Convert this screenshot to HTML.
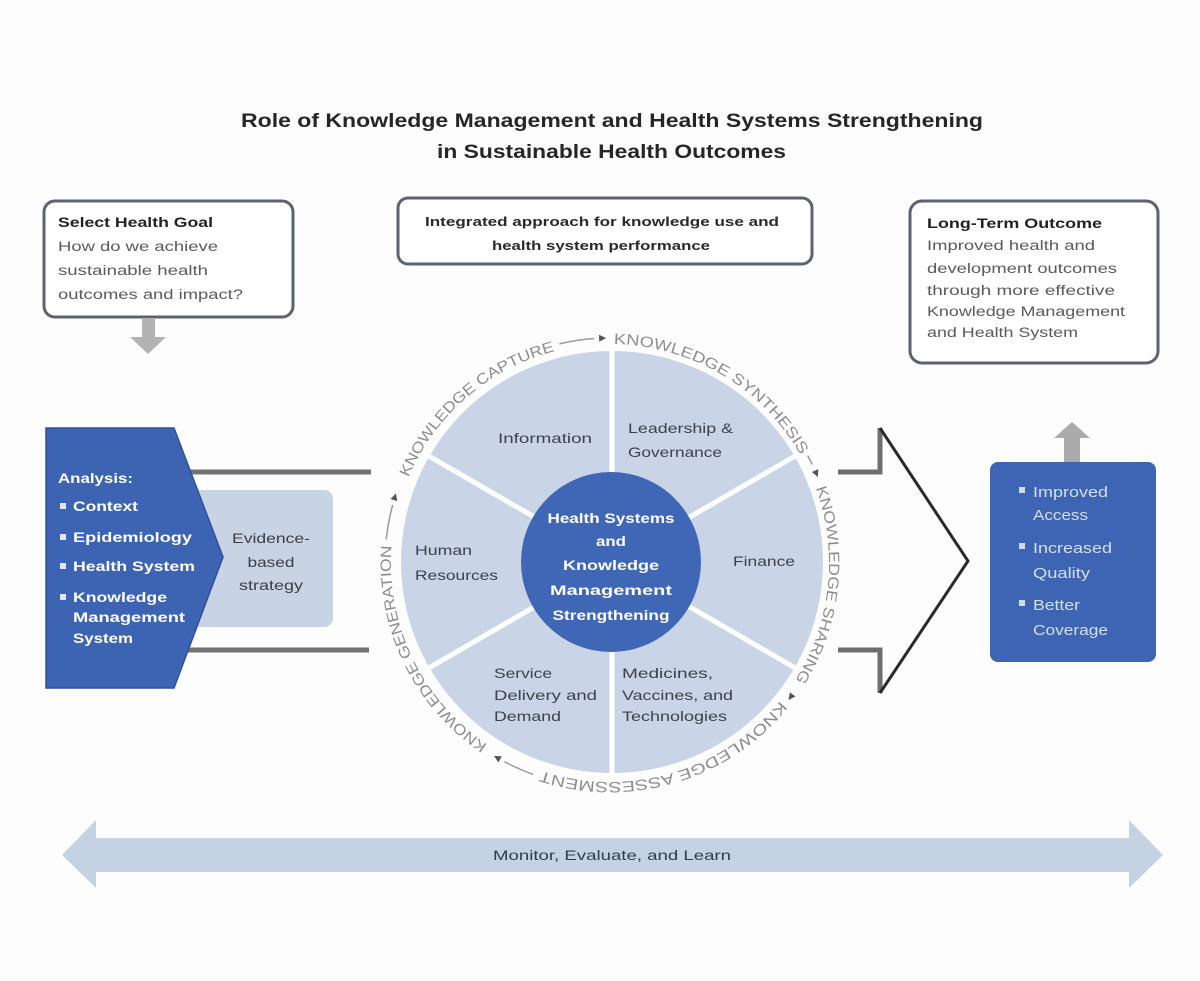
<!DOCTYPE html>
<html><head><meta charset="utf-8"><style>
html,body{margin:0;padding:0;background:#fdfdfd;}
svg{display:block;}
text{font-family:"Liberation Sans",sans-serif;}
</style></head><body>
<svg width="1200" height="981" viewBox="0 0 1200 981" xmlns="http://www.w3.org/2000/svg">
<rect x="0" y="0" width="1200" height="981" fill="#fdfdfd"/>

<!-- Title -->
<text x="241" y="127" font-size="19" font-weight="bold" fill="#262626" textLength="742" lengthAdjust="spacingAndGlyphs">Role of Knowledge Management and Health Systems Strengthening</text>
<text x="437" y="158" font-size="19" font-weight="bold" fill="#262626" textLength="349" lengthAdjust="spacingAndGlyphs">in Sustainable Health Outcomes</text>

<!-- Top-left box -->
<rect x="44" y="201" width="249" height="116" rx="11" fill="#ffffff" stroke="#5b6271" stroke-width="3"/>
<text x="58" y="227" font-size="13.5" font-weight="bold" fill="#222" textLength="155" lengthAdjust="spacingAndGlyphs">Select Health Goal</text>
<text x="58" y="251" font-size="13.5" fill="#5a5a5a" textLength="160" lengthAdjust="spacingAndGlyphs">How do we achieve</text>
<text x="58" y="275" font-size="13.5" fill="#5a5a5a" textLength="150" lengthAdjust="spacingAndGlyphs">sustainable health</text>
<text x="58" y="299" font-size="13.5" fill="#5a5a5a" textLength="185" lengthAdjust="spacingAndGlyphs">outcomes and impact?</text>
<!-- down arrow -->
<polygon points="142,318 155,318 155,337 166,337 148,354 130,337 142,337" fill="#b3b3b3"/>

<!-- Top-middle box -->
<rect x="398" y="198" width="414" height="66" rx="10" fill="#ffffff" stroke="#5b6271" stroke-width="3"/>
<text x="425" y="226" font-size="13" font-weight="bold" fill="#2a2a2a" textLength="354" lengthAdjust="spacingAndGlyphs">Integrated approach for knowledge use and</text>
<text x="492" y="250" font-size="13" font-weight="bold" fill="#2a2a2a" textLength="218" lengthAdjust="spacingAndGlyphs">health system performance</text>

<!-- Top-right box -->
<rect x="910" y="201" width="248" height="162" rx="12" fill="#ffffff" stroke="#5b6271" stroke-width="3"/>
<text x="927" y="228" font-size="13.5" font-weight="bold" fill="#222" textLength="175" lengthAdjust="spacingAndGlyphs">Long-Term Outcome</text>
<text x="927" y="250" font-size="13.5" fill="#5a5a5a" textLength="168" lengthAdjust="spacingAndGlyphs">Improved health and</text>
<text x="927" y="273" font-size="13.5" fill="#5a5a5a" textLength="190" lengthAdjust="spacingAndGlyphs">development outcomes</text>
<text x="927" y="295" font-size="13.5" fill="#5a5a5a" textLength="188" lengthAdjust="spacingAndGlyphs">through more effective</text>
<text x="927" y="316" font-size="13.5" fill="#5a5a5a" textLength="198" lengthAdjust="spacingAndGlyphs">Knowledge Management</text>
<text x="927" y="337" font-size="13.5" fill="#5a5a5a" textLength="151" lengthAdjust="spacingAndGlyphs">and Health System</text>

<!-- Left shaft lines -->
<line x1="185" y1="472" x2="371" y2="472" stroke="#737373" stroke-width="5"/>
<line x1="185" y1="650" x2="369" y2="650" stroke="#737373" stroke-width="5"/>

<!-- Evidence box -->
<rect x="180" y="490" width="153" height="137" rx="9" fill="#c8d3e3"/>
<text x="271" y="543" font-size="14" fill="#3a3f48" text-anchor="middle" textLength="78" lengthAdjust="spacingAndGlyphs">Evidence-</text>
<text x="271" y="567" font-size="14" fill="#3a3f48" text-anchor="middle" textLength="47" lengthAdjust="spacingAndGlyphs">based</text>
<text x="271" y="590" font-size="14" fill="#3a3f48" text-anchor="middle" textLength="64" lengthAdjust="spacingAndGlyphs">strategy</text>

<!-- Analysis pentagon -->
<polygon points="46,428 174,428 223,557 174,688 46,688" fill="#3d64b3" stroke="#2f5198" stroke-width="1.5"/>
<text x="58" y="483" font-size="14" font-weight="bold" fill="#ffffff" textLength="75" lengthAdjust="spacingAndGlyphs">Analysis:</text>
<rect x="60" y="503" width="6" height="6" fill="#dfe7f6"/>
<text x="73" y="511" font-size="14" font-weight="bold" fill="#ffffff" textLength="65" lengthAdjust="spacingAndGlyphs">Context</text>
<rect x="60" y="534" width="6" height="6" fill="#dfe7f6"/>
<text x="73" y="542" font-size="14" font-weight="bold" fill="#ffffff" textLength="119" lengthAdjust="spacingAndGlyphs">Epidemiology</text>
<rect x="60" y="563" width="6" height="6" fill="#dfe7f6"/>
<text x="73" y="571" font-size="14" font-weight="bold" fill="#ffffff" textLength="122" lengthAdjust="spacingAndGlyphs">Health System</text>
<rect x="60" y="594" width="6" height="6" fill="#dfe7f6"/>
<text x="73" y="602" font-size="14" font-weight="bold" fill="#ffffff" textLength="94" lengthAdjust="spacingAndGlyphs">Knowledge</text>
<text x="73" y="622" font-size="14" font-weight="bold" fill="#ffffff" textLength="112" lengthAdjust="spacingAndGlyphs">Management</text>
<text x="73" y="643" font-size="14" font-weight="bold" fill="#ffffff" textLength="60" lengthAdjust="spacingAndGlyphs">System</text>

<!-- Right big hollow arrow -->
<polyline points="838,472 880,472 880,428" fill="none" stroke="#6e6e6e" stroke-width="5"/>
<polyline points="838,650 880,650 880,693" fill="none" stroke="#6e6e6e" stroke-width="5"/>
<polyline points="880,428 968,561 880,693" fill="none" stroke="#2a2a2a" stroke-width="3"/>

<!-- Up arrow above blue box -->
<polygon points="1064,462 1080,462 1080,438 1090,438 1072,422 1054,438 1064,438" fill="#ababab"/>

<!-- Blue outcome box -->
<rect x="990" y="462" width="166" height="200" rx="8" fill="#3e65b4"/>
<rect x="1019" y="487" width="6" height="6" fill="#cddaf0"/>
<text x="1033" y="497" font-size="15" fill="#d3dff3" textLength="75" lengthAdjust="spacingAndGlyphs">Improved</text>
<text x="1033" y="520" font-size="15" fill="#d3dff3" textLength="55" lengthAdjust="spacingAndGlyphs">Access</text>
<rect x="1019" y="543" width="6" height="6" fill="#cddaf0"/>
<text x="1033" y="553" font-size="15" fill="#d3dff3" textLength="79" lengthAdjust="spacingAndGlyphs">Increased</text>
<text x="1033" y="578" font-size="15" fill="#d3dff3" textLength="57" lengthAdjust="spacingAndGlyphs">Quality</text>
<rect x="1019" y="600" width="6" height="6" fill="#cddaf0"/>
<text x="1033" y="610" font-size="15" fill="#d3dff3" textLength="47" lengthAdjust="spacingAndGlyphs">Better</text>
<text x="1033" y="635" font-size="15" fill="#d3dff3" textLength="75" lengthAdjust="spacingAndGlyphs">Coverage</text>

<!-- Central circle -->
<circle cx="612" cy="562" r="211" fill="#c9d5e6"/>
<g stroke="#ffffff" stroke-width="5">
  <line x1="612" y1="562" x2="612" y2="348"/>
  <line x1="612" y1="562" x2="612" y2="776"/>
  <line x1="612" y1="562" x2="427" y2="455"/>
  <line x1="612" y1="562" x2="427" y2="669"/>
  <line x1="612" y1="562" x2="797" y2="455"/>
  <line x1="612" y1="562" x2="797" y2="669"/>
</g>
<circle cx="611" cy="562" r="90" fill="#3f67b6"/>

<!-- Segment labels -->
<g font-size="14" fill="#3c414d">
<text x="498" y="443" textLength="94" lengthAdjust="spacingAndGlyphs">Information</text>
<text x="628" y="433" textLength="105" lengthAdjust="spacingAndGlyphs">Leadership &amp;</text>
<text x="628" y="457" textLength="94" lengthAdjust="spacingAndGlyphs">Governance</text>
<text x="415" y="555" textLength="57" lengthAdjust="spacingAndGlyphs">Human</text>
<text x="415" y="580" textLength="83" lengthAdjust="spacingAndGlyphs">Resources</text>
<text x="733" y="566" textLength="62" lengthAdjust="spacingAndGlyphs">Finance</text>
<text x="494" y="678" textLength="58" lengthAdjust="spacingAndGlyphs">Service</text>
<text x="494" y="700" textLength="103" lengthAdjust="spacingAndGlyphs">Delivery and</text>
<text x="494" y="721" textLength="67" lengthAdjust="spacingAndGlyphs">Demand</text>
<text x="622" y="678" textLength="91" lengthAdjust="spacingAndGlyphs">Medicines,</text>
<text x="622" y="700" textLength="111" lengthAdjust="spacingAndGlyphs">Vaccines, and</text>
<text x="622" y="721" textLength="105" lengthAdjust="spacingAndGlyphs">Technologies</text>
</g>

<!-- Inner circle text -->
<g font-size="13.5" font-weight="bold" fill="#ffffff" text-anchor="middle">
<text x="611" y="523" textLength="127" lengthAdjust="spacingAndGlyphs">Health Systems</text>
<text x="611" y="546" textLength="30" lengthAdjust="spacingAndGlyphs">and</text>
<text x="611" y="570" textLength="96" lengthAdjust="spacingAndGlyphs">Knowledge</text>
<text x="611" y="595" textLength="122" lengthAdjust="spacingAndGlyphs">Management</text>
<text x="611" y="620" textLength="117" lengthAdjust="spacingAndGlyphs">Strengthening</text>
</g>

<!-- Ring text paths -->
<defs>
  <path id="pCap" d="M408.4,477.4 A219,219 0 0 1 557.0,350.5"/>
  <path id="pSyn" d="M613.8,344.0 A219,219 0 0 1 801.5,456.8"/>
  <path id="pSha" d="M815.8,488.1 A219,219 0 0 1 793.7,682.3"/>
  <path id="pAss" d="M780.2,700.8 A219,219 0 0 1 538.7,770.1"/>
  <path id="pGen" d="M487.5,744.6 A219,219 0 0 1 391.8,543.9"/>
</defs>
<g font-size="15" fill="#8d8d8d">
  <text><textPath href="#pCap" textLength="200" lengthAdjust="spacingAndGlyphs">KNOWLEDGE CAPTURE</textPath></text>
  <text><textPath href="#pSyn" textLength="227" lengthAdjust="spacingAndGlyphs">KNOWLEDGE SYNTHESIS</textPath></text>
  <text><textPath href="#pSha" textLength="200" lengthAdjust="spacingAndGlyphs">KNOWLEDGE SHARING</textPath></text>
  <text><textPath href="#pAss" textLength="265" lengthAdjust="spacingAndGlyphs">KNOWLEDGE ASSESSMENT</textPath></text>
  <text><textPath href="#pGen" textLength="231" lengthAdjust="spacingAndGlyphs">KNOWLEDGE GENERATION</textPath></text>
</g>

<!-- Ring connector lines -->
<g fill="none" stroke="#9a9a9a" stroke-width="1.5">
  <path d="M559.4,343.8 A225,225 0 0 1 594.3,338.5"/>
  <path d="M807.7,455.6 A225,225 0 0 1 812.2,464.4"/>
  <path d="M533.0,774.4 A225,225 0 0 1 504.4,761.7"/>
  <path d="M386.2,539.5 A225,225 0 0 1 392.7,504.8"/>
</g>
<!-- Ring markers -->
<g fill="#555">
  <polygon points="4,0 -3,-3.5 -3,3.5" transform="translate(602.1,338.1) rotate(358)"/>
  <polygon points="4,0 -3,-3.5 -3,3.5" transform="translate(816.3,473.3) rotate(66.5)"/>
  <polygon points="4,0 -3,-3.5 -3,3.5" transform="translate(790.9,696.8) rotate(126.5)"/>
  <polygon points="4,0 -3,-3.5 -3,3.5" transform="translate(497.5,757.9) rotate(210)"/>
  <polygon points="4,0 -3,-3.5 -3,3.5" transform="translate(394.8,497.2) rotate(287)"/>
</g>

<!-- Bottom double arrow -->
<polygon points="62,855 96,820 96,838 1129,838 1129,820 1163,855 1129,888 1129,872 96,872 96,888" fill="#c4d2e4"/>
<text x="493" y="860" font-size="14" fill="#323c4f" textLength="238" lengthAdjust="spacingAndGlyphs">Monitor,  Evaluate, and Learn</text>
</svg>
</body></html>
